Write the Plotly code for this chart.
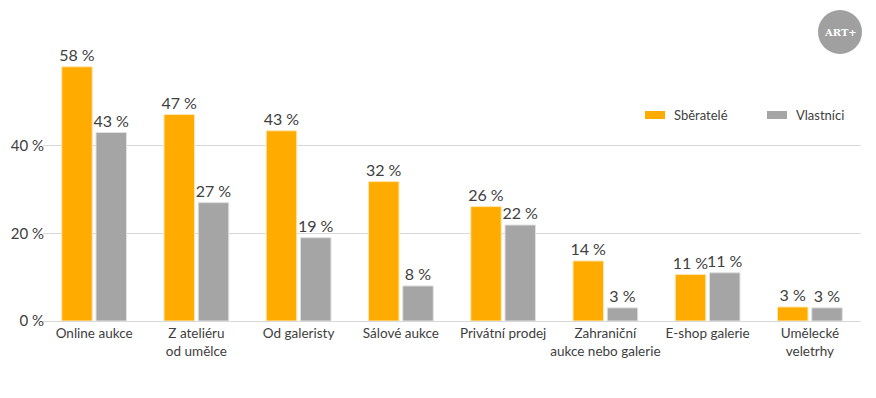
import plotly.graph_objects as go

categories = ["Online aukce", "Z ateliéru<br>od umělce", "Od galeristy", "Sálové aukce",
              "Privátní prodej", "Zahraniční<br>aukce nebo galerie", "E-shop galerie",
              "Umělecké<br>veletrhy"]
sberatele = [58.0, 47.1, 43.4, 31.8, 26.1, 13.7, 10.6, 3.2]
vlastnici = [43.0, 27.0, 19.0, 8.0, 21.9, 3.0, 11.0, 3.0]
sberatele_labels = ["58 %", "47 %", "43 %", "32 %", "26 %", "14 %", "11 %", "3 %"]
vlastnici_labels = ["43 %", "27 %", "19 %", "8 %", "22 %", "3 %", "11 %", "3 %"]
y_ticks = [0, 20, 40]
y_tick_labels = ["0 %", "20 %", "40 %"]
series_names = ["Sběratelé", "Vlastníci"]
series_colors = ["#FFAB00", "#A5A5A5"]

FONT = "Lato"
TXT = "#404040"

OFF = 8  # default page body margin
W, H = 876 - 2 * OFF, 398 - 2 * OFF
L, R, T, B = 43 - OFF, (876 - OFF) - (861 - OFF) - OFF, 58 - OFF, 398 - 321 - OFF
PW, PH = W - L - R, H - T - B


def px(x):
    return (x - OFF - L) / PW


def py(y):
    return (H - B - (y - OFF)) / PH


fig = go.Figure()
for name, vals, labels, col, lc in [
    (series_names[0], sberatele, sberatele_labels, series_colors[0], "#FFE6B3"),
    (series_names[1], vlastnici, vlastnici_labels, series_colors[1], "#E0E0E0"),
]:
    fig.add_trace(go.Bar(name=name, x=categories, y=vals, text=labels,
                         textposition="outside", constraintext="none",
                         marker_color=col, marker_line=dict(color=lc, width=1),
                         textfont=dict(size=16, color=TXT, family=FONT),
                         cliponaxis=False, showlegend=False))

shapes = [dict(type="circle", xref="paper", yref="paper",
               x0=px(818), x1=px(862), y0=py(54), y1=py(10),
               fillcolor="#A0A0A0", line=dict(width=0))]
annotations = [dict(text="<b>ART+</b>", xref="paper", yref="paper",
                    x=px(840), y=py(33), xanchor="center", yanchor="middle",
                    showarrow=False,
                    font=dict(family="DejaVu Serif", size=10, color="white"))]
# legend (manual)
for i, (name, col) in enumerate(zip(series_names, series_colors)):
    x0 = 645 + i * 122
    shapes.append(dict(type="rect", xref="paper", yref="paper",
                       x0=px(x0), x1=px(x0 + 20), y0=py(119), y1=py(111),
                       fillcolor=col, line=dict(width=0)))
    annotations.append(dict(text=name, xref="paper", yref="paper",
                            x=px(x0 + 27), y=py(115), xanchor="left", yanchor="middle",
                            showarrow=False, font=dict(size=13, color=TXT, family=FONT)))

fig.update_layout(
    width=W, height=H,
    margin=dict(l=L, r=R, t=T, b=B, autoexpand=False),
    paper_bgcolor="white", plot_bgcolor="white",
    barmode="group", bargap=0.33, bargroupgap=0.11,
    font=dict(family=FONT, color=TXT),
    showlegend=False,
    xaxis=dict(showgrid=False, showline=True, linecolor="#D9D9D9", linewidth=1,
               ticks="", tickangle=0, automargin=False,
               tickfont=dict(size=13.5, color=TXT, family=FONT)),
    yaxis=dict(range=[0, 60], tickvals=y_ticks, ticktext=y_tick_labels, showgrid=True,
               gridcolor="#D9D9D9", gridwidth=1, zeroline=False, showline=False,
               automargin=False,
               tickfont=dict(size=15, color=TXT, family=FONT), ticklabelstandoff=-2),
    shapes=shapes,
    annotations=annotations,
)

fig.write_html("out.html")
